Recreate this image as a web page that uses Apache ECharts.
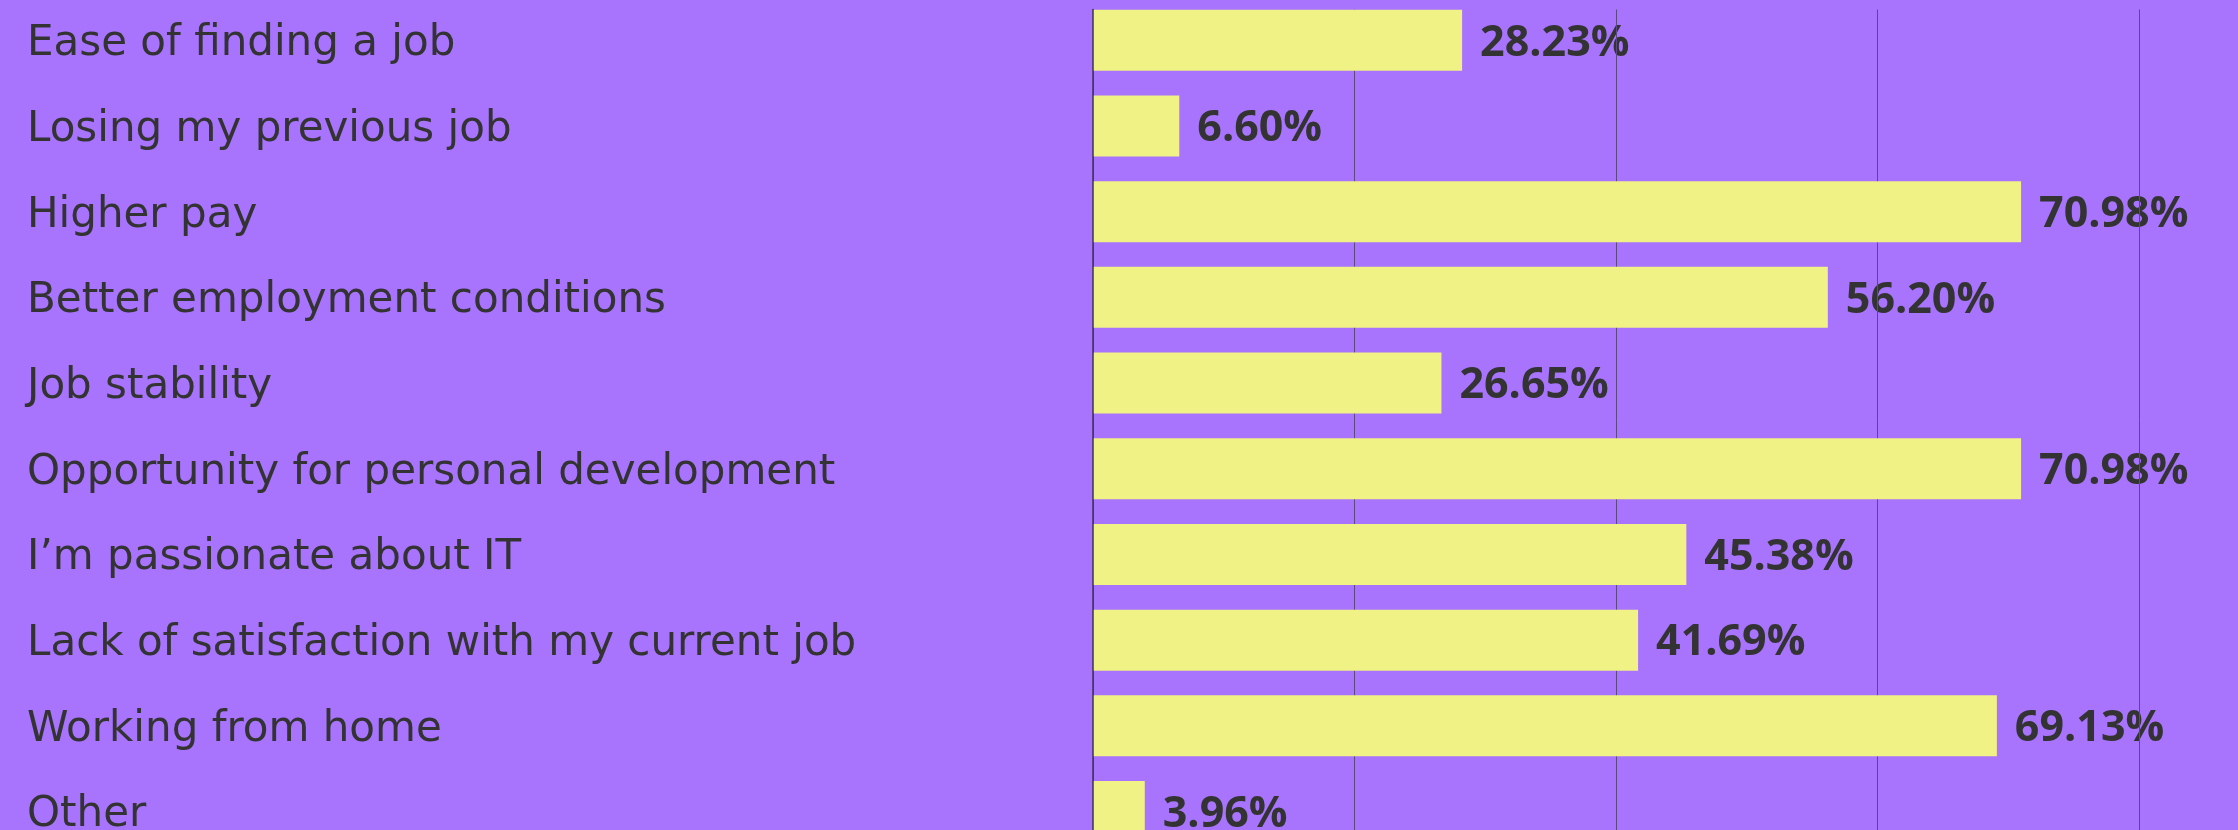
<!DOCTYPE html>
<html>
<head>
<meta charset="utf-8">
<style>
html,body{margin:0;padding:0;background:#A873FD;}
#c{width:2238px;height:830px;}
</style>
<script src="https://cdn.jsdelivr.net/npm/echarts@6/dist/echarts.min.js"></script>
</head>
<body>
<div id="c"></div>
<script>
const categories = [
  "Ease of finding a job",
  "Losing my previous job",
  "Higher pay",
  "Better employment conditions",
  "Job stability",
  "Opportunity for personal development",
  "I\u2019m passionate about IT",
  "Lack of satisfaction with my current job",
  "Working from home",
  "Other"
];
const values = [28.23, 6.60, 70.98, 56.20, 26.65, 70.98, 45.38, 41.69, 69.13, 3.96];
const xMin = 0, xMax = 80, xStep = 20;

const chart = echarts.init(document.getElementById('c'), null, {renderer: 'canvas'});
chart.setOption({
  animation: false,
  backgroundColor: '#A873FD',
  grid: [
    {left: 1093, top: -2.6, width: 1046, height: 857, outerBoundsMode: 'none', containLabel: false},
    {left: 1093, top: 9.5, width: 1046, height: 900, outerBoundsMode: 'none', containLabel: false}
  ],
  xAxis: [
    {gridIndex: 0, type: 'value', min: xMin, max: xMax, interval: xStep, show: false},
    {gridIndex: 1, type: 'value', min: xMin, max: xMax, interval: xStep, z: 2,
     axisLine: {show: false}, axisTick: {show: false}, axisLabel: {show: false},
     splitLine: {show: true, lineStyle: {color: '#5B4A80', width: 1}}}
  ],
  yAxis: [
    {gridIndex: 0, type: 'category', inverse: true, data: categories,
     axisLine: {show: false}, axisTick: {show: false},
     axisLabel: {align: 'left', margin: 1066, color: '#333333', fontFamily: 'DejaVu Sans', fontSize: 42,
                 formatter: v => '{a|' + v + '}',
                 rich: {a: {color: '#333333', fontFamily: 'DejaVu Sans', fontSize: 42, padding: [8, 0, 0, 0]}}}},
    {gridIndex: 1, type: 'value', z: 4, min: 0, max: 1,
     axisLine: {show: true, lineStyle: {color: '#3E3358', width: 1.5}},
     axisTick: {show: false}, axisLabel: {show: false}, splitLine: {show: false}}
  ],
  series: [
    {type: 'bar', xAxisIndex: 0, yAxisIndex: 0, data: values, z: 1, barWidth: 61, barGap: '-100%',
     itemStyle: {color: 'rgba(0,0,0,0)'},
     label: {show: true, position: 'right', distance: 18, offset: [0, 3], color: '#333333', fontFamily: 'Open Sans',
             fontWeight: 'bold', fontSize: 43,
             formatter: p => p.value.toFixed(2) + '%'}},
    {type: 'bar', xAxisIndex: 0, yAxisIndex: 0, data: values, z: 3, barWidth: 61, barGap: '-100%',
     itemStyle: {color: '#F0F285'}}
  ]
});
</script>
</body>
</html>
